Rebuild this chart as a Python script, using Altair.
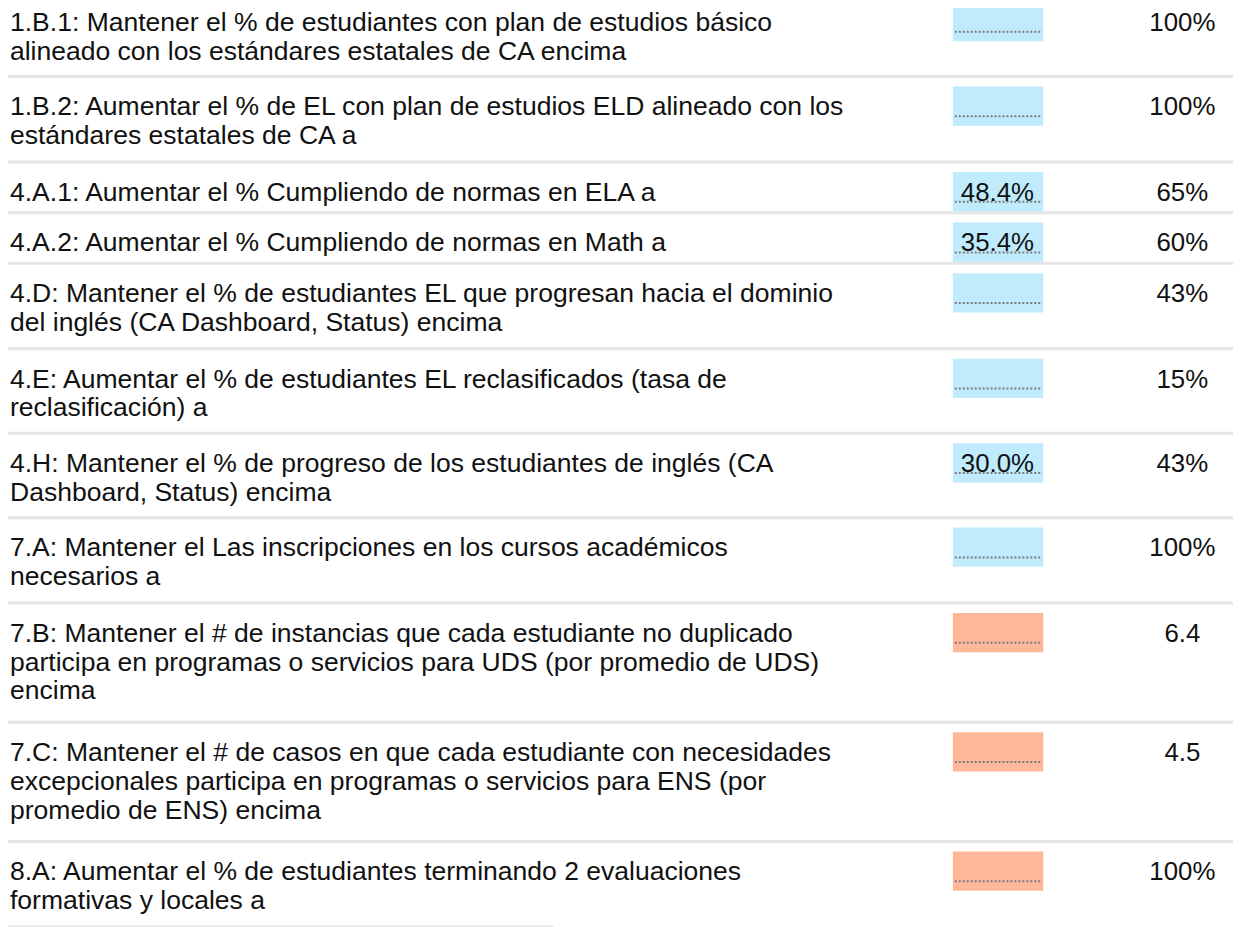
import altair as alt
import pandas as pd

# ---------------- data ----------------
labels = [
    "1.B.1: Mantener el % de estudiantes con plan de estudios básico\nalineado con los estándares estatales de CA encima",
    "1.B.2: Aumentar el % de EL con plan de estudios ELD alineado con los\nestándares estatales de CA a",
    "4.A.1: Aumentar el % Cumpliendo de normas en ELA a",
    "4.A.2: Aumentar el % Cumpliendo de normas en Math a",
    "4.D: Mantener el % de estudiantes EL que progresan hacia el dominio\ndel inglés (CA Dashboard, Status) encima",
    "4.E: Aumentar el % de estudiantes EL reclasificados (tasa de\nreclasificación) a",
    "4.H: Mantener el % de progreso de los estudiantes de inglés (CA\nDashboard, Status) encima",
    "7.A: Mantener el Las inscripciones en los cursos académicos\nnecesarios a",
    "7.B: Mantener el # de instancias que cada estudiante no duplicado\nparticipa en programas o servicios para UDS (por promedio de UDS)\nencima",
    "7.C: Mantener el # de casos en que cada estudiante con necesidades\nexcepcionales participa en programas o servicios para ENS (por\npromedio de ENS) encima",
    "8.A: Aumentar el % de estudiantes terminando 2 evaluaciones\nformativas y locales  a",
]
current_values = ["", "", "48.4%", "35.4%", "", "", "30.0%", "", "", "", ""]
target_values = ["100%", "100%", "65%", "60%", "43%", "15%", "43%", "100%", "6.4", "4.5", "100%"]
status = ["blue", "blue", "blue", "blue", "blue", "blue", "blue", "blue",
          "salmon", "salmon", "salmon"]

# ---------------- layout (pixels) ----------------
W, H = 1233, 919
LINE_STEP, ROW_PAD = 34.5, 16.5
FIRST_TOP = -19
rows = []
acc = FIRST_TOP
n_rows = len(labels)
for i, (lab, cur, tgt, st) in enumerate(zip(labels, current_values, target_values, status)):
    n = lab.count("\n") + 1
    top = round(acc)
    acc += LINE_STEP * n + ROW_PAD
    bottom = round(acc)
    rows.append(dict(label=lab, current=cur, target=tgt, status=st,
                     top=top, bottom=bottom,
                     sep_end=W if i < n_rows - 1 else 549,
                     box_top=top + 10, box_bottom=top + 49.5,
                     dots=top + 40, text_y=top + 39, label_y=top + 39))
df = pd.DataFrame(rows)

yscale = alt.Scale(domain=[0, H], range=[0, H], nice=False, zero=False)
xscale = alt.Scale(domain=[0, W], range=[0, W], nice=False, zero=False)
FONT = "Liberation Sans, Arial, sans-serif"
base = alt.Chart(df)

sep = base.mark_rule(color="#e5e5e5", strokeWidth=3).encode(
    y=alt.Y("bottom:Q", scale=yscale, axis=None),
    x=alt.X("zero_x:Q", scale=xscale, axis=None),
    x2="sep_end:Q",
).transform_calculate(zero_x="0")

box = base.mark_rect().encode(
    y=alt.Y("box_top:Q", scale=yscale, axis=None),
    y2="box_bottom:Q",
    x=alt.value(951), x2=alt.value(1042),
    color=alt.Color("status:N", legend=None,
                    scale=alt.Scale(domain=["blue", "salmon"],
                                    range=["#c0ebfc", "#ffb799"])))

dots = base.mark_rule(color="#7a7a7a", strokeWidth=2, strokeDash=[2, 2]).encode(
    y=alt.Y("dots:Q", scale=yscale, axis=None),
    x=alt.value(953), x2=alt.value(1040))

cur_txt = base.mark_text(align="left", baseline="alphabetic", fontSize=26,
                         font=FONT, color="#111111").encode(
    y=alt.Y("text_y:Q", scale=yscale, axis=None),
    x=alt.value(959), text="current:N")

tgt_txt = base.mark_text(align="center", baseline="alphabetic", fontSize=26,
                         font=FONT, color="#111111").encode(
    y=alt.Y("text_y:Q", scale=yscale, axis=None),
    x=alt.value(1182), text="target:N")

lab_txt = base.mark_text(align="left", baseline="alphabetic", fontSize=26.7,
                         font=FONT, color="#111111", lineBreak="\n",
                         lineHeight=29).encode(
    y=alt.Y("label_y:Q", scale=yscale, axis=None),
    x=alt.value(2), text="label:N")

chart = alt.layer(sep, box, dots, cur_txt, tgt_txt, lab_txt).properties(
    width=W, height=H, padding=0, autosize="none"
).configure_view(stroke=None)

chart.save("out.html", embed_options={"renderer": "svg", "actions": False})
